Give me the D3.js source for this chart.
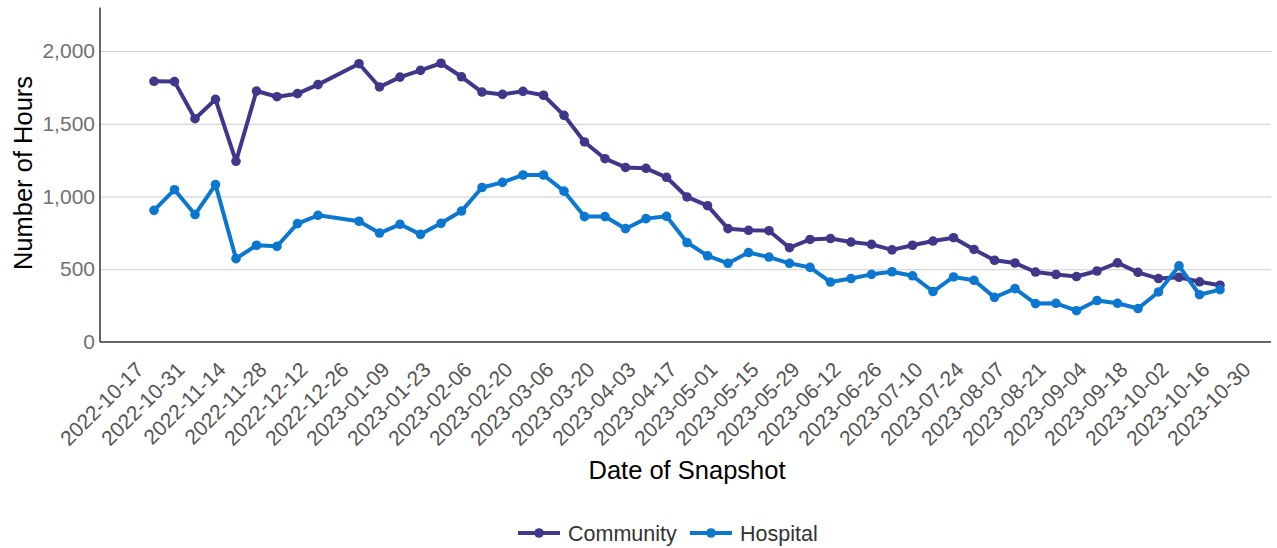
<!DOCTYPE html>
<html>
<head>
<meta charset="utf-8">
<script src="https://cdn.jsdelivr.net/npm/d3@7"></script>
<style>
  html, body { margin: 0; padding: 0; background: #fff; }
  svg { display: block; font-family: "Liberation Sans", Arial, sans-serif; }
</style>
</head>
<body>
<svg id="chart" width="1277" height="548"></svg>
<script>
// ---- data ----
const dates = [
  "2022-10-24","2022-10-31","2022-11-07","2022-11-14","2022-11-21","2022-11-28",
  "2022-12-05","2022-12-12","2022-12-19",
  "2023-01-02","2023-01-09","2023-01-16","2023-01-23","2023-01-30","2023-02-06",
  "2023-02-13","2023-02-20","2023-02-27","2023-03-06","2023-03-13","2023-03-20",
  "2023-03-27","2023-04-03","2023-04-10","2023-04-17","2023-04-24","2023-05-01",
  "2023-05-08","2023-05-15","2023-05-22","2023-05-29","2023-06-05","2023-06-12",
  "2023-06-19","2023-06-26","2023-07-03","2023-07-10","2023-07-17","2023-07-24",
  "2023-07-31","2023-08-07","2023-08-14","2023-08-21","2023-08-28","2023-09-04",
  "2023-09-11","2023-09-18","2023-09-25","2023-10-02","2023-10-09","2023-10-16",
  "2023-10-23"
];
const community = [
  1792,1790,1535,1668,1242,1725,1686,1707,1769,
  1913,1753,1821,1867,1916,1823,1718,1702,1723,1696,1558,1375,1260,1200,1194,
  1132,997,937,779,768,765,648,705,711,687,671,633,665,694,717,636,562,543,481,
  464,450,488,544,479,436,445,414,390
];
const hospital = [
  905,1047,876,1082,573,665,658,814,871,
  830,749,809,740,816,900,1062,1097,1148,1148,1037,862,862,779,848,
  864,684,593,541,615,584,541,513,412,436,465,483,455,347,447,424,307,367,264,
  266,215,285,266,230,344,523,325,360
];
const xTickLabels = [
  "2022-10-17","2022-10-31","2022-11-14","2022-11-28","2022-12-12","2022-12-26",
  "2023-01-09","2023-01-23","2023-02-06","2023-02-20","2023-03-06","2023-03-20",
  "2023-04-03","2023-04-17","2023-05-01","2023-05-15","2023-05-29","2023-06-12",
  "2023-06-26","2023-07-10","2023-07-24","2023-08-07","2023-08-21","2023-09-04",
  "2023-09-18","2023-10-02","2023-10-16","2023-10-30"
];
const yTicks = [0, 500, 1000, 1500, 2000];
const seriesNames = ["Community", "Hospital"];
const seriesColors = ["#3f3789", "#0a77d0"];

// ---- scales ----
const parse = d3.utcParse("%Y-%m-%d");
const dateObjs = dates.map(parse);
const x = d3.scaleUtc()
  .domain([parse("2022-10-24"), parse("2023-10-23")])
  .range([154, 1220]);
const y = d3.scaleLinear().domain([0, 2300]).range([342, 7.4]);

const plotLeft = 100, plotRight = 1271;
const svg = d3.select("#chart");

// gridlines + y axis labels
const yAxis = d3.axisLeft(y).tickValues(yTicks).tickFormat(d3.format(","))
  .tickSize(-(plotRight - plotLeft)).tickPadding(5);
const gy = svg.append("g").attr("transform", `translate(${plotLeft},0)`).call(yAxis);
gy.select(".domain").remove();
gy.selectAll(".tick line").attr("stroke", "#cccccc").attr("stroke-width", 1)
  .filter(d => d === 0).remove();
gy.selectAll(".tick text").attr("fill", "#707070").attr("font-size", 21)
  .attr("font-family", "'Liberation Sans', Arial, sans-serif").attr("x", -5);

// x axis
const xAxis = d3.axisBottom(x).tickValues(xTickLabels.map(parse))
  .tickFormat(d3.utcFormat("%Y-%m-%d")).tickSize(0);
const gx = svg.append("g").attr("transform", `translate(0,342)`).call(xAxis);
gx.select(".domain").remove();
gx.selectAll(".tick text")
  .attr("fill", "#555555").attr("font-size", 21)
  .attr("font-family", "'Liberation Sans', Arial, sans-serif")
  .attr("text-anchor", "end")
  .attr("dy", null)
  .attr("y", 0)
  .attr("transform", "translate(11,29) rotate(-45)");

// axis lines
svg.append("line").attr("x1", plotLeft).attr("x2", plotLeft)
  .attr("y1", y(2300)).attr("y2", y(0)).attr("stroke", "#333").attr("stroke-width", 1.5);
svg.append("line").attr("x1", plotLeft).attr("x2", plotRight)
  .attr("y1", y(0)).attr("y2", y(0)).attr("stroke", "#333").attr("stroke-width", 1.5);

// axis titles
svg.append("text").attr("x", 687).attr("y", 479).attr("text-anchor", "middle")
  .attr("font-size", 25.5).attr("fill", "#000").text("Date of Snapshot");
svg.append("text").attr("transform", "translate(32,173) rotate(-90)")
  .attr("text-anchor", "middle").attr("font-size", 25.5).attr("fill", "#000")
  .text("Number of Hours");

// series
const seriesData = [community, hospital];
const line = d3.line().x((d, i) => x(dateObjs[i])).y(d => y(d));
seriesData.forEach((vals, s) => {
  const g = svg.append("g");
  g.append("path").datum(vals).attr("d", line).attr("fill", "none")
    .attr("stroke", seriesColors[s]).attr("stroke-width", 4)
    .attr("stroke-linejoin", "round").attr("stroke-linecap", "round");
  g.selectAll("circle").data(vals).join("circle")
    .attr("cx", (d, i) => x(dateObjs[i])).attr("cy", d => y(d))
    .attr("r", 4.8).attr("fill", seriesColors[s]);
});

// legend
const legendItems = [{ lx: 518, tx: 568 }, { lx: 690, tx: 740 }];
legendItems.forEach((it, s) => {
  const g = svg.append("g");
  g.append("line").attr("x1", it.lx).attr("x2", it.lx + 42)
    .attr("y1", 533).attr("y2", 533).attr("stroke", seriesColors[s]).attr("stroke-width", 4);
  g.append("circle").attr("cx", it.lx + 21).attr("cy", 533).attr("r", 4.8).attr("fill", seriesColors[s]);
  g.append("text").attr("x", it.tx).attr("y", 541).attr("font-size", 21.5)
    .attr("fill", "#333").text(seriesNames[s]);
});
</script>
</body>
</html>
